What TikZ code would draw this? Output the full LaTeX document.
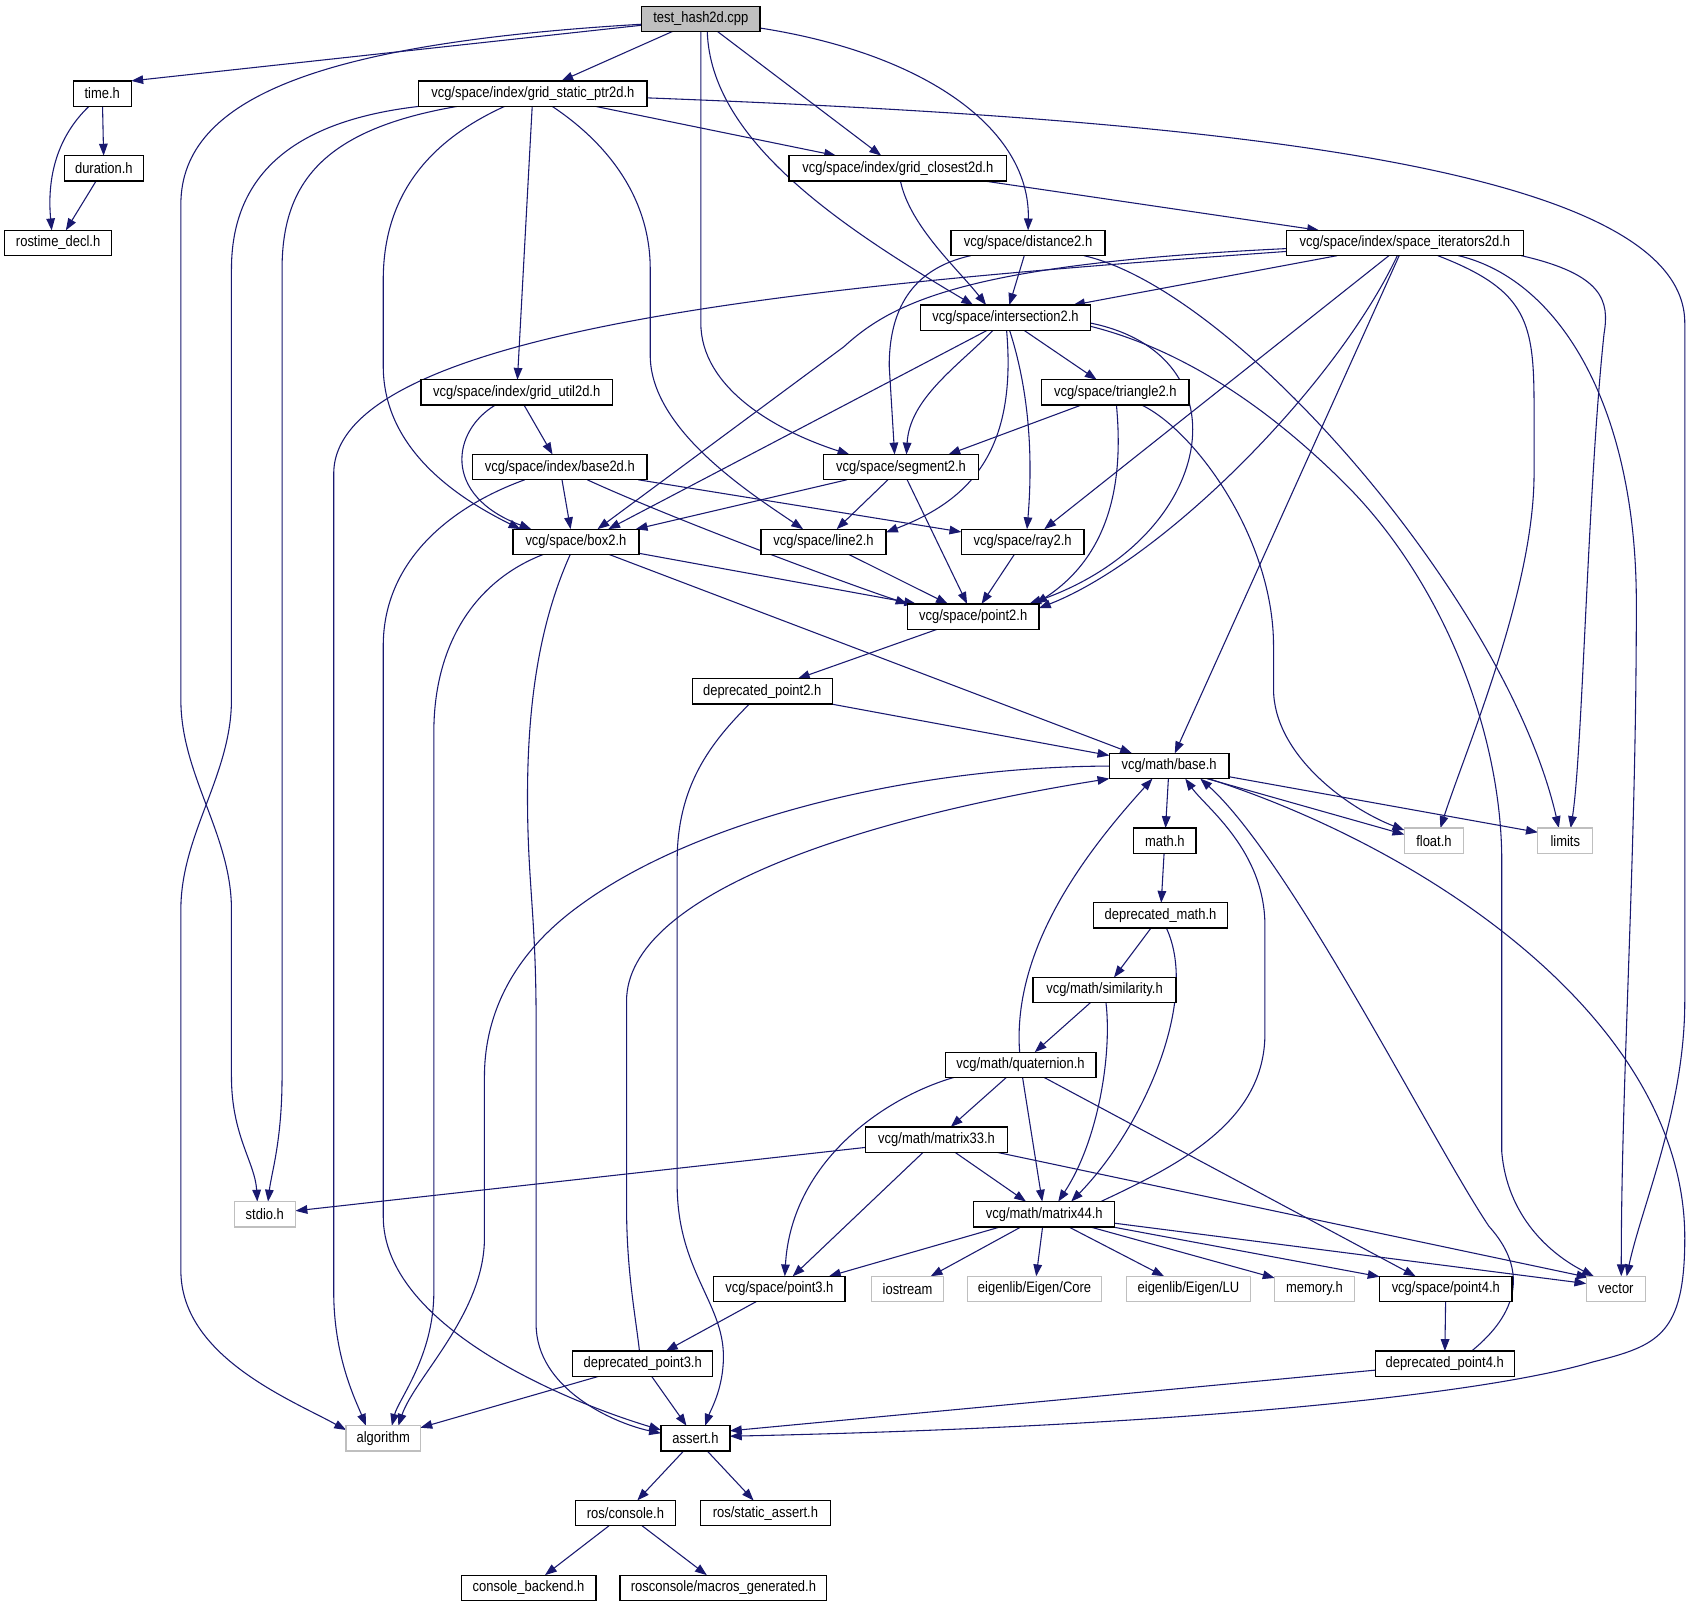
\documentclass[tikz,border=0pt]{standalone}
\usepackage{fontspec}
\setmainfont{Liberation Sans}
\newfontfamily\nodefont[FakeStretch=0.86]{Liberation Sans}
\usetikzlibrary{arrows.meta,calc,backgrounds}
\definecolor{edgeblue}{HTML}{191970}
\definecolor{graybox}{HTML}{BFBFBF}
\tikzset{
 nb/.style={draw=black, line width=1.2pt, fill=white, minimum height=23.5pt, inner sep=0pt, outer sep=0pt, font=\nodefont\fontsize{14}{16}\selectfont, text=black},
 ng/.style={nb, draw=graybox},
 edg/.style={draw=edgeblue, line width=1pt, -{Triangle[length=11pt,width=8pt]}},
}
\begin{document}
\begin{tikzpicture}[x=1pt,y=-1pt]
\useasboundingbox (0,0) rectangle (1568,1491);
% nodes
\node[nb,fill=graybox,minimum width=110pt] (root) at (651,17.5) {test\_hash2d.cpp};
\node[nb,minimum width=54pt] (timeh) at (95,86.9) {time.h};
\node[nb,minimum width=73pt] (durh) at (96.5,156.3) {duration.h};
\node[nb,minimum width=99pt] (rost) at (54,225.7) {rostime\_decl.h};
\node[nb,minimum width=212pt] (gsp) at (495,86.9) {vcg/space/index/grid\_static\_ptr2d.h};
\node[nb,minimum width=202pt] (gcl) at (834,156.3) {vcg/space/index/grid\_closest2d.h};
\node[nb,minimum width=143pt] (dist) at (955,225.7) {vcg/space/distance2.h};
\node[nb,minimum width=220pt] (spit) at (1305,225.7) {vcg/space/index/space\_iterators2d.h};
\node[nb,minimum width=158pt] (inter) at (934,295.1) {vcg/space/intersection2.h};
\node[nb,minimum width=178pt] (gutil) at (480,364.5) {vcg/space/index/grid\_util2d.h};
\node[nb,minimum width=137pt] (tri) at (1036,364.5) {vcg/space/triangle2.h};
\node[nb,minimum width=162pt] (base2d) at (520,433.9) {vcg/space/index/base2d.h};
\node[nb,minimum width=144pt] (seg) at (837,433.9) {vcg/space/segment2.h};
\node[nb,minimum width=117pt] (box) at (535,503.3) {vcg/space/box2.h};
\node[nb,minimum width=116pt] (line) at (765,503.3) {vcg/space/line2.h};
\node[nb,minimum width=114pt] (ray) at (950,503.3) {vcg/space/ray2.h};
\node[nb,minimum width=122pt] (pt2) at (904,572.7) {vcg/space/point2.h};
\node[nb,minimum width=130pt] (dp2) at (708,642.1) {deprecated\_point2.h};
\node[nb,minimum width=111pt] (base) at (1086,711.5) {vcg/math/base.h};
\node[nb,minimum width=58pt] (mathh) at (1082,780.9) {math.h};
\node[ng,minimum width=55pt] (floath) at (1332,780.9) {float.h};
\node[ng,minimum width=51pt] (limits) at (1454,780.9) {limits};
\node[nb,minimum width=124pt] (dmath) at (1078,850.3) {deprecated\_math.h};
\node[nb,minimum width=133pt] (sim) at (1026,919.7) {vcg/math/similarity.h};
\node[nb,minimum width=140pt] (quat) at (948,989.1) {vcg/math/quaternion.h};
\node[nb,minimum width=132pt] (m33) at (870,1058.5) {vcg/math/matrix33.h};
\node[ng,minimum width=57pt] (stdio) at (246,1127.9) {stdio.h};
\node[nb,minimum width=131pt] (m44) at (970,1127.9) {vcg/math/matrix44.h};
\node[nb,minimum width=122pt] (pt3) at (724,1197.3) {vcg/space/point3.h};
\node[ng,minimum width=67pt] (iostream) at (843,1197.3) {iostream};
\node[ng,minimum width=125pt] (ecore) at (961,1197.3) {eigenlib/Eigen/Core};
\node[ng,minimum width=115pt] (elu) at (1104,1197.3) {eigenlib/Eigen/LU};
\node[ng,minimum width=74pt] (memh) at (1221,1197.3) {memory.h};
\node[nb,minimum width=123pt] (pt4) at (1343,1197.3) {vcg/space/point4.h};
\node[ng,minimum width=55pt] (vector) at (1501,1197.3) {vector};
\node[nb,minimum width=130pt] (dp3) at (597,1266.7) {deprecated\_point3.h};
\node[nb,minimum width=129pt] (dp4) at (1342,1266.7) {deprecated\_point4.h};
\node[ng,minimum width=69pt] (algo) at (356,1336.1) {algorithm};
\node[nb,minimum width=64pt] (assert) at (646,1336.1) {assert.h};
\node[nb,minimum width=93pt] (rcons) at (581,1405.5) {ros/console.h};
\node[nb,minimum width=121pt] (rsa) at (711,1405.5) {ros/static\_assert.h};
\node[nb,minimum width=125pt] (cback) at (491,1474.9) {console\_backend.h};
\node[nb,minimum width=192pt] (rmacro) at (672,1474.9) {rosconsole/macros\_generated.h};

\begin{scope}[on background layer]
\fill[white] (0,0) rectangle (1568,1491);
% root
\draw[edg] (root) -- (timeh.north east);
\draw[edg] ($(root.west)+(0,5)$) .. controls (300,40) and (168,90) .. (168,190) -- (168,650) .. controls (168,720) and (215,775) .. (215,845) -- (215,1000) .. controls (215,1055) and (237,1080) .. ($(stdio.north)+(-7,0)$);
\draw[edg] (root) -- (gsp);
\draw[edg] (root.south) -- (651,300) .. controls (651,360) and (720,400) .. ($(seg.north west)+(24,0)$);
\draw[edg] (root) -- (gcl);
\draw[edg] ($(root.south)+(6,0)$) .. controls (660,130) and (780,210) .. ($(inter.north)+(-30,0)$);
\draw[edg] (root) .. controls (860,50) and (957,120) .. (dist.north);
% time
\draw[edg] (timeh) -- (durh);
\draw[edg] (timeh) .. controls (50,130) and (44,170) .. ($(rost.north)+(-6,0)$);
\draw[edg] (durh) -- (rost);
% grid_static_ptr2d
\draw[edg] ($(gsp.east)+(0,4)$) .. controls (1100,110) and (1565,150) .. (1565,300) -- (1565,930) .. controls (1565,1030) and (1525,1120) .. ($(vector.north)+(10,0)$);
\draw[edg] (gsp) -- (gcl);
\draw[edg] (gsp) .. controls (290,110) and (215,150) .. (215,250) -- (215,650) .. controls (215,720) and (168,775) .. (168,845) -- (168,1180) .. controls (168,1260) and (270,1300) .. ($(algo.north west)+(0,4)$);
\draw[edg] (gsp) .. controls (300,120) and (262,170) .. (262,250) -- (262,1000) .. controls (262,1060) and (252,1090) .. ($(stdio.north)+(3,0)$);
\draw[edg] (gsp) .. controls (400,130) and (356,180) .. (356,260) -- (356,340) .. controls (356,420) and (430,465) .. ($(box.north west)+(7,0)$);
\draw[edg] (gsp) -- (gutil);
\draw[edg] (gsp) .. controls (560,130) and (604,180) .. (604,250) -- (604,330) .. controls (604,400) and (700,460) .. ($(line.north)+(-19,0)$);
% grid_closest2d
\draw[edg] (gcl) .. controls (845,210) and (890,250) .. ($(inter.north)+(-18,0)$);
\draw[edg] (gcl) -- (spit);
% distance2
\draw[edg] (dist) .. controls (845,250) and (826,290) .. (826,340) -- ($(seg.north)+(-6,0)$);
\draw[edg] (dist) -- (inter);
\draw[edg] (dist) .. controls (1150,270) and (1400,560) .. ($(limits.north)+(-6,0)$);
% space_iterators2d
\draw[edg] (spit) .. controls (800,262) and (310,300) .. (310,440) -- (310,1200) .. controls (310,1260) and (330,1300) .. ($(algo.north)+(-16,0)$);
\draw[edg] (spit) .. controls (900,245) and (830,280) .. (784,322) -- ($(box.north)+(20,0)$);
\draw[edg] (spit) -- (inter);
\draw[edg] (spit) -- ($(ray.north)+(20,0)$);
\draw[edg] ($(spit.south)+(-7,0)$) .. controls (1240,360) and (1080,520) .. ($(pt2.north east)+(0,4)$);
\draw[edg] (spit) -- (base);
\draw[edg] (spit) .. controls (1420,270) and (1425,300) .. (1425,380) -- (1425,440) .. controls (1425,550) and (1360,700) .. ($(floath.north)+(6,0)$);
\draw[edg] (spit) .. controls (1450,260) and (1520,380) .. (1520,560) .. controls (1520,800) and (1506,1000) .. ($(vector.north)+(5,0)$);
\draw[edg] ($(spit.south east)+(-2,0)$) .. controls (1490,255) and (1495,280) .. (1490,310) .. controls (1475,450) and (1470,700) .. ($(limits.north)+(5,0)$);
% intersection2
\draw[edg] (inter) -- (tri);
\draw[edg] (inter) .. controls (890,340) and (845,370) .. ($(seg.north)+(5,0)$);
\draw[edg] ($(inter.south)+(-17,0)$) -- ($(box.north)+(30,0)$);
\draw[edg] (inter) .. controls (945,420) and (900,465) .. ($(line.north east)+(0,3)$);
\draw[edg] (inter) .. controls (955,360) and (960,420) .. ($(ray.north)+(4,0)$);
\draw[edg] ($(inter.east)+(0,5)$) .. controls (1160,330) and (1130,500) .. ($(pt2.north east)+(-9,0)$);
\draw[edg] ($(inter.east)+(0,8)$) .. controls (1100,325) and (1180,380) .. (1250,450) .. controls (1340,540) and (1395,680) .. (1395,800) -- (1395,1070) .. controls (1400,1130) and (1440,1165) .. ($(vector.north west)+(7,0)$);
% triangle2
\draw[edg] (tri) -- ($(seg.north east)+(-28,0)$);
\draw[edg] (tri) .. controls (1042,430) and (1040,510) .. ($(pt2.north east)+(-3,0)$);
\draw[edg] (tri) .. controls (1110,400) and (1183,500) .. (1183,600) -- (1183,640) .. controls (1183,700) and (1250,750) .. ($(floath.north west)+(0,2)$);
% grid_util2d, base2d
\draw[edg] (gutil) -- (base2d);
\draw[edg] (gutil) .. controls (420,400) and (410,460) .. ($(box.north west)+(17,0)$);
\draw[edg] (base2d) -- ($(box.north)+(-5,0)$);
\draw[edg] (base2d) -- (ray);
\draw[edg] (base2d) .. controls (620,480) and (780,540) .. (pt2.north west);
\draw[edg] (base2d) .. controls (420,470) and (356,520) .. (356,600) -- (356,1130) .. controls (356,1230) and (520,1300) .. ($(assert.north west)+(0,4)$);
% segment2
\draw[edg] (seg) -- (line);
\draw[edg] (seg) -- (pt2);
\draw[edg] (seg) -- ($(box.north east)+(-3,0)$);
% box2
\draw[edg] (box) .. controls (440,540) and (403,600) .. (403,680) -- (403,1200) .. controls (403,1260) and (370,1300) .. ($(algo.north)+(8,0)$);
\draw[edg] (box) .. controls (505,570) and (490,640) .. (490,740) .. controls (490,820) and (498,850) .. (498,950) -- (498,1230) .. controls (498,1290) and (570,1322) .. ($(assert.north west)+(0,7)$);
\draw[edg] (box) -- ($(pt2.north west)+(8,0)$);
\draw[edg] (box) -- ($(base.north west)+(21,0)$);
% point2, line2, ray2
\draw[edg] (pt2) -- (dp2);
\draw[edg] (line) -- (pt2);
\draw[edg] (ray) -- (pt2);
% deprecated_point2
\draw[edg] (dp2) -- ($(base.north west)+(0,2)$);
\draw[edg] (dp2) .. controls (660,690) and (629,730) .. (629,800) -- (629,1100) .. controls (629,1180) and (672,1210) .. (672,1260) .. controls (672,1290) and (660,1310) .. ($(assert.north)+(9,0)$);
% base.h
\draw[edg] (base) .. controls (850,712) and (650,760) .. (540,840) .. controls (470,890) and (450,950) .. (450,1000) -- (450,1150) .. controls (450,1220) and (385,1280) .. ($(algo.north)+(14,0)$);
\draw[edg] (base) -- (mathh);
\draw[edg] ($(base.south)+(35,0)$) -- ($(floath.north west)+(0,6)$);
\draw[edg] (base) -- ($(limits.north west)+(0,4)$);
\draw[edg] (base) .. controls (1330,790) and (1565,950) .. (1565,1150) .. controls (1565,1240) and (1540,1250) .. (1480,1265) .. controls (1380,1295) and (1100,1325) .. ($(assert.east)+(0,-2)$);
% deprecated_point3/4
\draw[edg] ($(dp3.north)+(-3,0)$) .. controls (590,1220) and (582,1180) .. (582,1120) -- (582,930) .. controls (582,830) and (800,760) .. (base.south west);
\draw[edg] (dp3) -- (algo);
\draw[edg] (dp3) -- (assert);
\draw[edg] ($(dp4.north)+(25,0)$) .. controls (1410,1220) and (1420,1180) .. (1383,1139) .. controls (1330,1060) and (1200,800) .. ($(base.south)+(29,0)$);
\draw[edg] (dp4) -- ($(assert.east)+(0,-7)$);
% math chain
\draw[edg] (mathh) -- (dmath);
\draw[edg] (dmath) -- (sim);
\draw[edg] (dmath) .. controls (1115,930) and (1060,1050) .. ($(m44.north)+(25,0)$);
\draw[edg] (sim) -- (quat);
\draw[edg] (sim) .. controls (1033,980) and (1020,1060) .. ($(m44.north)+(13,0)$);
\draw[edg] (quat) .. controls (940,880) and (1010,790) .. ($(base.south west)+(40,0)$);
\draw[edg] (quat) -- (m44);
\draw[edg] (quat) -- (m33);
\draw[edg] ($(quat.south west)+(8,0)$) .. controls (820,1020) and (735,1080) .. ($(pt3.north)+(5,0)$);
\draw[edg] (quat) -- ($(pt4.north)+(-28,0)$);
\draw[edg] (m33) -- (stdio);
\draw[edg] (m33) -- (m44);
\draw[edg] (m33) -- (pt3);
\draw[edg] (m33) -- ($(vector.north west)+(2,1)$);
\draw[edg] ($(m44.north east)+(-13,0)$) .. controls (1100,1080) and (1175,1040) .. (1175,960) -- (1175,860) .. controls (1175,790) and (1120,750) .. ($(base.south)+(15,0)$);
\draw[edg] (m44) -- ($(pt3.north east)+(-15,0)$);
\draw[edg] (m44) -- (iostream);
\draw[edg] (m44) -- (ecore);
\draw[edg] (m44) -- (elu);
\draw[edg] (m44) -- (memh);
\draw[edg] (m44) -- (pt4);
\draw[edg] (m44) -- ($(vector.west)+(0,-5)$);
\draw[edg] (pt3) -- (dp3);
\draw[edg] (pt4) -- (dp4);
% assert and ros
\draw[edg] (assert) -- (rcons);
\draw[edg] (assert) -- (rsa);
\draw[edg] (rcons) -- (cback);
\draw[edg] (rcons) -- (rmacro);
\end{scope}
\end{tikzpicture}
\end{document}
